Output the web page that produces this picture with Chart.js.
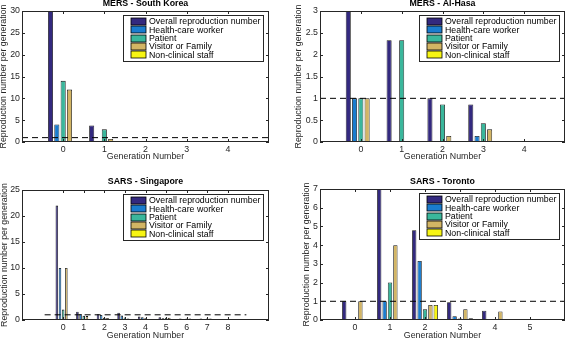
<!DOCTYPE html>
<html><head><meta charset="utf-8">
<script src="https://cdn.jsdelivr.net/npm/chart.js@4/dist/chart.umd.min.js"></script>
<style>
html,body{margin:0;padding:0;width:566px;height:339px;overflow:hidden;background:#fff;}
body{position:relative}
canvas{position:absolute}
</style></head><body>
<canvas id="c1" width="283" height="175" style="left:0;top:-5px"></canvas>
<canvas id="c2" width="283" height="175" style="left:283px;top:-5px"></canvas>
<canvas id="c3" width="283" height="175" style="left:0;top:170px"></canvas>
<canvas id="c4" width="283" height="175" style="left:283px;top:170px"></canvas>
<script>
// ---- data ----
const seriesNames = ['Overall reproduction number','Health-care worker','Patient','Visitor or Family','Non-clinical staff'];

const koreaTitle = 'MERS - South Korea';
const koreaGenerations = [0, 1, 2, 3];
const koreaOverall     = [30, 3.8, 0.25, 0.12];
const koreaHCW         = [4, 0.2, 0.05, 0];
const koreaPatient     = [14, 2.9, 0.1, 0.05];
const koreaVisitor     = [12, 0.7, 0.05, 0];
const koreaNonClinical = [0, 0.1, 0, 0];
const koreaXTicks = [0, 1, 2, 3, 4];
const koreaYTicks = [0, 5, 10, 15, 20, 25, 30];

const hasaTitle = 'MERS - Al-Hasa';
const hasaGenerations = [0, 1, 2, 3];
const hasaOverall     = [3, 2.33, 1, 0.86];
const hasaHCW         = [1, 0, 0, 0.14];
const hasaPatient     = [1, 2.33, 0.86, 0.43];
const hasaVisitor     = [1, 0, 0.14, 0.29];
const hasaNonClinical = [0, 0, 0, 0];
const hasaXTicks = [0, 1, 2, 3, 4];
const hasaYTicks = [0, 0.5, 1, 1.5, 2, 2.5, 3];

const singTitle = 'SARS - Singapore';
const singGenerations = [0, 1, 2, 3, 4, 5, 6, 7];
const singOverall     = [22, 1.6, 1.1, 1.4, 0.65, 0.55, 0.3, 0.3];
const singHCW         = [10, 1.15, 0.95, 0.85, 0.55, 0.35, 0.05, 0.05];
const singPatient     = [2, 0.8, 0.45, 0.5, 0.35, 0.45, 0.3, 0.3];
const singVisitor     = [10, 0.75, 0.4, 0.3, 0.2, 0.45, 0.3, 0.3];
const singNonClinical = [0, 0.1, 0, 0.1, 0, 0, 0, 0];
const singXTicks = [0, 1, 2, 3, 4, 5, 6, 7, 8];
const singYTicks = [0, 5, 10, 15, 20, 25];

const torTitle = 'SARS - Toronto';
const torGenerations = [0, 1, 2, 3, 4];
const torOverall     = [1, 7, 4.8, 0.95, 0.5];
const torHCW         = [0, 1, 3.15, 0.2, 0.05];
const torPatient     = [0, 2, 0.57, 0.08, 0];
const torVisitor     = [1, 4, 0.8, 0.58, 0.46];
const torNonClinical = [0, 0, 0.8, 0.1, 0];
const torXTicks = [0, 1, 2, 3, 4, 5];
const torYTicks = [0, 1, 2, 3, 4, 5, 6, 7];

const thresholdValue = 1;

// ---- styles ----
const seriesColors = ['#33297f', '#1a7cce', '#3ab79c', '#d3b564', '#f7f514'];
const FONT = '"Liberation Sans", Arial, Helvetica, sans-serif';
const FS = 8.8;
const AX = '#262626';

const framePlugin = {
  id: 'matlabFrame',
  afterDatasetsDraw(chart) {
    const ctx = chart.ctx, a = chart.chartArea;
    const xs = chart.scales.x, ys = chart.scales.y;
    ctx.save();
    ctx.strokeStyle = AX; ctx.lineWidth = 1;
    ctx.strokeRect(Math.round(a.left) + 0.5, Math.round(a.top) + 0.5, Math.round(a.right - a.left) - 1, Math.round(a.bottom - a.top) - 1);
    ctx.beginPath();
    xs.ticks.forEach(t => {
      const p = Math.round(xs.getPixelForValue(t.value)) + 0.5;
      ctx.moveTo(p, a.bottom); ctx.lineTo(p, a.bottom - 3);
      ctx.moveTo(p, a.top); ctx.lineTo(p, a.top + 3);
    });
    ys.ticks.forEach(t => {
      const p = Math.round(ys.getPixelForValue(t.value)) + 0.5;
      ctx.moveTo(a.left, p); ctx.lineTo(a.left + 3, p);
      ctx.moveTo(a.right, p); ctx.lineTo(a.right - 3, p);
    });
    ctx.stroke();
    ctx.restore();
  },
  afterDraw(chart, args, opts) {
    const ctx = chart.ctx, a = chart.chartArea;
    ctx.save();
    // title
    ctx.fillStyle = '#000';
    ctx.font = 'bold ' + FS + 'px ' + FONT;
    ctx.textAlign = 'center'; ctx.textBaseline = 'middle';
    ctx.fillText(opts.title, (a.left + a.right) / 2, a.top - opts.titleGap);
    // legend box
    ctx.font = FS + 'px ' + FONT;
    const items = chart.data.datasets.filter(d => d.type !== 'line');
    let tw = 0;
    items.forEach(d => { tw = Math.max(tw, ctx.measureText(d.label).width); });
    const rowH = 8.3;
    const w = Math.round(26 + tw + 3), h = Math.round(6 + rowH * (items.length - 1) + 6.7);
    const right = Math.round(a.right - 6), top = Math.round(a.top + 4);
    const left = right - w;
    ctx.fillStyle = '#fff';
    ctx.fillRect(left, top, w, h);
    ctx.strokeStyle = AX; ctx.lineWidth = 1;
    ctx.strokeRect(left + 0.5, top + 0.5, w, h);
    ctx.textAlign = 'left';
    items.forEach((d, i) => {
      const cy = top + 6.5 + rowH * i;
      ctx.fillStyle = d.backgroundColor;
      ctx.fillRect(left + 8, Math.round(cy - 3.5), 15, 7);
      ctx.strokeStyle = '#000'; ctx.lineWidth = 0.8;
      ctx.strokeRect(left + 8, Math.round(cy - 3.5), 15, 7);
      ctx.fillStyle = '#000';
      ctx.fillText(d.label, left + 26, cy + 0.5);
    });
    ctx.restore();
  }
};

function makeChart(id, g) {
  const seriesData = [g.overall, g.hcw, g.patient, g.visitor, g.nonClinical];
  const datasets = seriesData.map((vals, i) => ({
    type: 'bar',
    label: seriesNames[i],
    data: vals,
    backgroundColor: seriesColors[i],
    borderColor: '#111',
    borderWidth: 0.8,
    categoryPercentage: 0.769,
    barPercentage: 0.8,
    order: 1
  }));
  datasets.push({
    type: 'line',
    label: 'threshold',
    data: [{x: g.lineFrom, y: thresholdValue}, {x: g.lineTo, y: thresholdValue}],
    borderColor: '#000', borderWidth: 1, borderDash: [6, 4],
    pointRadius: 0, fill: false, order: 0
  });
  const W = 283, H = 175;
  new Chart(document.getElementById(id), {
    type: 'bar',
    data: { labels: g.generations, datasets },
    options: {
      responsive: false, animation: false, events: [],
      layout: { padding: { left: g.padL, right: W - g.plotR, top: g.plotT, bottom: g.padB } },
      plugins: {
        legend: { display: false }, tooltip: { enabled: false },
        matlabFrame: { title: g.title, titleGap: g.titleGap }
      },
      scales: {
        x: {
          type: 'linear', min: g.xMin, max: g.xMax, offset: false,
          grid: { display: false, drawTicks: false }, border: { display: false },
          afterBuildTicks: s => { s.ticks = g.xTicks.map(v => ({ value: v })); },
          afterFit: s => { s.height = H - g.padB - g.plotB; },
          ticks: { autoSkip: false, maxRotation: 0, padding: 2, color: AX, font: { family: FONT, size: FS }, callback: v => String(v) },
          title: { display: true, text: 'Generation Number', color: AX, padding: 0, font: { family: FONT, size: FS } }
        },
        y: {
          min: 0, max: g.yTicks[g.yTicks.length - 1],
          grid: { display: false, drawTicks: false }, border: { display: false },
          afterBuildTicks: s => { s.ticks = g.yTicks.map(v => ({ value: v })); },
          afterFit: s => { s.width = g.plotL - g.padL; },
          ticks: { padding: 2, color: AX, font: { family: FONT, size: FS }, callback: v => String(v) },
          title: { display: true, text: 'Reproduction number per generation', color: AX, padding: 0, font: { family: FONT, size: FS } }
        }
      }
    },
    plugins: [framePlugin]
  });
}

makeChart('c1', {
  title: koreaTitle, generations: koreaGenerations, overall: koreaOverall, hcw: koreaHCW,
  patient: koreaPatient, visitor: koreaVisitor, nonClinical: koreaNonClinical,
  xTicks: koreaXTicks, yTicks: koreaYTicks, xMin: -1, xMax: 5, lineFrom: -1, lineTo: 5,
  padL: -1.5, plotL: 22, plotR: 269, plotT: 16, plotB: 147, padB: 7.7, titleGap: 7.5
});
makeChart('c2', {
  title: hasaTitle, generations: hasaGenerations, overall: hasaOverall, hcw: hasaHCW,
  patient: hasaPatient, visitor: hasaVisitor, nonClinical: hasaNonClinical,
  xTicks: hasaXTicks, yTicks: hasaYTicks, xMin: -1, xMax: 5, lineFrom: -1, lineTo: 5,
  padL: 10, plotL: 37, plotR: 282, plotT: 16, plotB: 147, padB: 7.7, titleGap: 7.5
});
makeChart('c3', {
  title: singTitle, generations: singGenerations, overall: singOverall, hcw: singHCW,
  patient: singPatient, visitor: singVisitor, nonClinical: singNonClinical,
  xTicks: singXTicks, yTicks: singYTicks, xMin: -2, xMax: 10, lineFrom: -0.9, lineTo: 8.9,
  padL: -0.5, plotL: 22, plotR: 269, plotT: 20, plotB: 150, padB: 3.7, titleGap: 8
});
makeChart('c4', {
  title: torTitle, generations: torGenerations, overall: torOverall, hcw: torHCW,
  patient: torPatient, visitor: torVisitor, nonClinical: torNonClinical,
  xTicks: torXTicks, yTicks: torYTicks, xMin: -1, xMax: 6, lineFrom: -1, lineTo: 6,
  padL: 18.4, plotL: 37, plotR: 282, plotT: 19, plotB: 150, padB: 3.7, titleGap: 7
});
</script>
</body></html>
